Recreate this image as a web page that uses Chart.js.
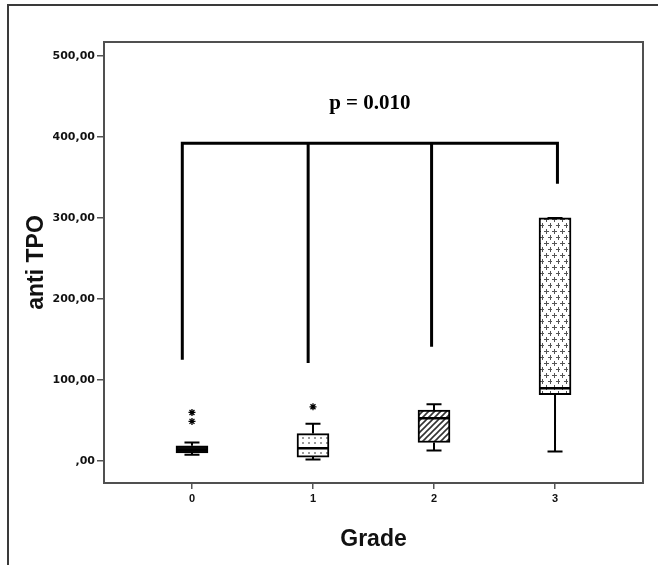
<!DOCTYPE html>
<html>
<head>
<meta charset="utf-8">
<script src="https://cdn.jsdelivr.net/npm/chart.js@4/dist/chart.umd.min.js"></script>
<style>
html,body{margin:0;padding:0;background:#fff;}
#wrap{width:658px;height:565px;position:relative;}
</style>
</head>
<body>
<div id="wrap"><canvas id="c" width="658" height="565"></canvas></div>
<script>
// ---- data ----
const grades = [0, 1, 2, 3];
const whiskerLow = [8, 2, 13, 12];
const q1 = [10, 5, 23, 82];
const median = [14, 16, 53, 90];
const q3 = [19, 34, 63, 300];
const whiskerHigh = [23, 46, 70, 300];
const outliers = [[49, 60], [67], [], []];
const bracketLegX = [-0.08, 0.96, 1.98, 3.02];
const bracketLegEnd = [125, 121, 141, 342];
const bracketLevel = 392;
const pLabel = 'p = 0.010';
const yTickValues = [0, 100, 200, 300, 400, 500];
const yTickLabels = [',00', '100,00', '200,00', '300,00', '400,00', '500,00'];
const xTickLabels = ['0', '1', '2', '3'];

// ---- styling constants ----
const BOX_HALF = 0.132;   // half box width in axis units
const CAP_HALF = 0.062;   // half whisker-cap width

function makePattern(kind) {
  const c = document.createElement('canvas');
  const ctx = c.getContext('2d');
  if (kind === 'solid') { return '#111'; }
  if (kind === 'dots') {
    c.width = 6; c.height = 5;
    ctx.fillStyle = '#fff'; ctx.fillRect(0, 0, 6, 5);
    ctx.fillStyle = '#9a9a9a'; ctx.fillRect(2, 2, 2, 2);
  } else if (kind === 'stripes') {
    c.width = 6; c.height = 6;
    ctx.fillStyle = '#fff'; ctx.fillRect(0, 0, 6, 6);
    ctx.strokeStyle = '#333'; ctx.lineWidth = 1.6;
    ctx.beginPath();
    for (let k = -1; k <= 1; k++) { ctx.moveTo(k * 6 - 1, 7); ctx.lineTo(k * 6 + 7, -1); }
    ctx.stroke();
  } else if (kind === 'cross') {
    c.width = 8; c.height = 12;
    ctx.fillStyle = '#fff'; ctx.fillRect(0, 0, 8, 12);
    ctx.fillStyle = '#555';
    const plus = (x, y) => { ctx.fillRect(x - 2, y, 5, 1); ctx.fillRect(x, y - 2, 1, 5); };
    plus(2, 3); plus(6, 9);
  }
  return ctx.createPattern(c, 'repeat');
}
const fills = [makePattern('solid'), makePattern('dots'), makePattern('stripes'), makePattern('cross')];

// boxes
const boxData = grades.map((g, i) => ({ x: g, y: [q1[i], q3[i]] }));

// whiskers (stems + caps), with gaps
const whiskerPts = [];
grades.forEach((g, i) => {
  whiskerPts.push({ x: g, y: q3[i] }, { x: g, y: whiskerHigh[i] }, { x: g, y: null });
  whiskerPts.push({ x: g - CAP_HALF, y: whiskerHigh[i] }, { x: g + CAP_HALF, y: whiskerHigh[i] }, { x: g, y: null });
  whiskerPts.push({ x: g, y: q1[i] }, { x: g, y: whiskerLow[i] }, { x: g, y: null });
  whiskerPts.push({ x: g - CAP_HALF, y: whiskerLow[i] }, { x: g + CAP_HALF, y: whiskerLow[i] }, { x: g, y: null });
});

// medians
const medianPts = [];
grades.forEach((g, i) => {
  medianPts.push({ x: g - BOX_HALF, y: median[i] }, { x: g + BOX_HALF, y: median[i] }, { x: g, y: null });
});

// outlier stars
const outlierPts = [];
grades.forEach((g, i) => outliers[i].forEach(v => outlierPts.push({ x: g, y: v })));

// significance bracket
const bracketPts = [
  { x: bracketLegX[0], y: bracketLegEnd[0] }, { x: bracketLegX[0], y: bracketLevel },
  { x: bracketLegX[3], y: bracketLevel }, { x: bracketLegX[3], y: bracketLegEnd[3] },
  { x: 0, y: null },
  { x: bracketLegX[1], y: bracketLevel }, { x: bracketLegX[1], y: bracketLegEnd[1] },
  { x: 0, y: null },
  { x: bracketLegX[2], y: bracketLevel }, { x: bracketLegX[2], y: bracketLegEnd[2] }
];

const framePlugin = {
  id: 'frame',
  beforeDraw(chart) {
    const ctx = chart.ctx;
    ctx.save();
    ctx.strokeStyle = '#3a3a3a';
    ctx.lineWidth = 2;
    ctx.beginPath();
    ctx.moveTo(8, 570); ctx.lineTo(8, 5); ctx.lineTo(665, 5);
    ctx.stroke();
    ctx.restore();
  },
  afterDraw(chart) {
    const { ctx, chartArea: a, scales } = chart;
    ctx.save();
    ctx.strokeStyle = '#505050';
    ctx.lineWidth = 2;
    ctx.strokeRect(a.left, a.top, a.right - a.left, a.bottom - a.top);
    ctx.fillStyle = '#000';
    ctx.font = 'bold 21px "Liberation Serif", "Times New Roman", serif';
    ctx.textAlign = 'center';
    ctx.textBaseline = 'middle';
    ctx.fillText(pLabel, scales.x.getPixelForValue(1.47), scales.y.getPixelForValue(441));
    ctx.restore();
  }
};

new Chart(document.getElementById('c'), {
  type: 'bar',
  data: {
    datasets: [
      {
        type: 'bar', data: boxData, backgroundColor: fills,
        borderColor: '#000', borderWidth: 2, borderSkipped: false,
        barThickness: 32, grouped: false, order: 3
      },
      {
        type: 'scatter', data: whiskerPts, showLine: true, spanGaps: false,
        borderColor: '#000', borderWidth: 2, pointRadius: 0, order: 2
      },
      {
        type: 'scatter', data: medianPts, showLine: true, spanGaps: false,
        borderColor: '#000', borderWidth: 2.5, pointRadius: 0, order: 1
      },
      {
        type: 'scatter', data: outlierPts, showLine: false,
        pointStyle: 'star', pointRadius: 3.5, borderColor: '#000', borderWidth: 1.3, order: 1
      },
      {
        type: 'scatter', data: bracketPts, showLine: true, spanGaps: false,
        borderColor: '#000', borderWidth: 3, pointRadius: 0, borderJoinStyle: 'miter', order: 0
      }
    ]
  },
  options: {
    responsive: false,
    animation: false,
    events: [],
    layout: { padding: { left: 10, right: 15, top: 42, bottom: 0 } },
    plugins: { legend: { display: false }, tooltip: { enabled: false } },
    scales: {
      x: {
        type: 'linear', min: -0.727, max: 3.727, offset: false,
        afterBuildTicks: s => { s.ticks = grades.map(v => ({ value: v })); },
        afterFit: s => { s.height = 82; },
        grid: { offset: false, drawOnChartArea: false, drawTicks: true, tickLength: 6, color: '#555', lineWidth: 1.5 },
        border: { display: false },
        ticks: {
          color: '#111', padding: 3,
          font: { family: '"Liberation Sans", Arial, sans-serif', size: 11, weight: 'bold' },
          callback: (v) => xTickLabels[grades.indexOf(v)]
        },
        title: {
          display: true, text: 'Grade', color: '#111',
          font: { family: '"Liberation Sans", Arial, sans-serif', size: 23, weight: 'bold' },
          padding: { top: 0, bottom: 12 }
        }
      },
      y: {
        type: 'linear', min: -27, max: 517,
        afterBuildTicks: s => { s.ticks = yTickValues.map(v => ({ value: v })); },
        afterFit: s => { s.width = 94; },
        grid: { drawOnChartArea: false, drawTicks: true, tickLength: 7, color: '#555', lineWidth: 1.5 },
        border: { display: false },
        ticks: {
          color: '#111', padding: 2,
          font: { family: '"DejaVu Sans", sans-serif', size: 11, weight: 'bold' },
          callback: (v) => yTickLabels[yTickValues.indexOf(v)]
        },
        title: {
          display: true, text: 'anti TPO', color: '#111',
          font: { family: '"Liberation Sans", Arial, sans-serif', size: 23, weight: 'bold' },
          padding: { top: 13, bottom: 0 }
        }
      }
    }
  },
  plugins: [framePlugin]
});
</script>
</body>
</html>
